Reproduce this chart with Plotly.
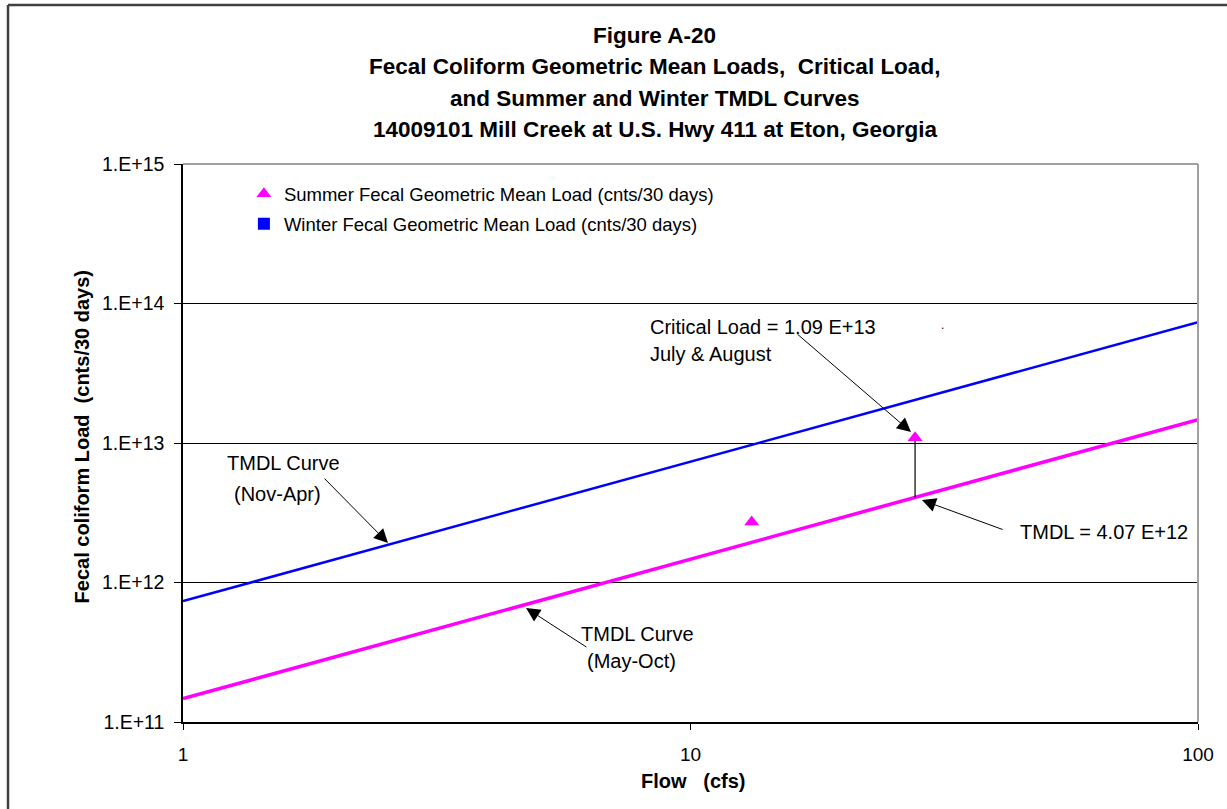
import plotly.graph_objects as go

# ---- data ----
flow_range = [1, 100]
summer_tmdl = [1.47e11, 1.47e13]
winter_tmdl = [7.35e11, 7.35e13]

summer_flow = [13.2, 27.7]
summer_load = [2.72e12, 1.09e13]
winter_flow = []
winter_load = []

critical_flow = 27.7
critical_load = 1.09e13
tmdl_load = 4.07e12

y_tickvals = [1e11, 1e12, 1e13, 1e14, 1e15]
y_ticktext = ["1.E+11", "1.E+12", "1.E+13", "1.E+14", "1.E+15"]
x_tickvals = [1, 10, 100]
x_ticktext = ["1", "10", "100"]

title_lines = [
    "Figure A-20",
    "Fecal Coliform Geometric Mean Loads,\u00a0\u00a0Critical Load,",
    "and Summer and Winter TMDL Curves",
    "14009101 Mill Creek at U.S. Hwy 411 at Eton, Georgia",
]

FONT = "Liberation Sans, Arial, sans-serif"
MAGENTA = "#FF00FF"
BLUE = "#0000FF"

fig = go.Figure()

fig.add_trace(go.Scatter(x=flow_range, y=summer_tmdl, mode="lines",
                         line=dict(color=MAGENTA, width=3.5), showlegend=False,
                         hoverinfo="skip"))
fig.add_trace(go.Scatter(x=flow_range, y=winter_tmdl, mode="lines",
                         line=dict(color=BLUE, width=2.5), showlegend=False,
                         hoverinfo="skip"))
fig.add_trace(go.Scatter(x=[critical_flow, critical_flow], y=[critical_load, tmdl_load],
                         mode="lines", line=dict(color="black", width=1.2),
                         showlegend=False, hoverinfo="skip"))
fig.add_trace(go.Scatter(x=summer_flow, y=summer_load, mode="markers",
                         marker=dict(symbol="triangle-up", size=13, color=MAGENTA),
                         name="Summer Fecal Geometric Mean Load (cnts/30 days)",
                         legendgroup="s"))
fig.add_trace(go.Scatter(x=winter_flow if winter_flow else [None],
                         y=winter_load if winter_load else [None], mode="markers",
                         marker=dict(symbol="square", size=12, color=BLUE),
                         name="Winter Fecal Geometric Mean Load (cnts/30 days)",
                         legendgroup="w"))

annotations = []
# title lines
for txt, yp in zip(title_lines, [1.231, 1.174, 1.1165, 1.061]):
    annotations.append(dict(text="<b>%s</b>" % txt, xref="paper", yref="paper",
                            x=0.465, y=yp, xanchor="center", yanchor="middle",
                            showarrow=False, font=dict(size=22.5, color="black", family=FONT)))
# axis titles
annotations.append(dict(text="<b>Flow\u00a0\u00a0\u00a0(cfs)</b>", xref="paper", yref="paper",
                        x=0.5025, y=-0.1057, xanchor="center", yanchor="middle",
                        showarrow=False, font=dict(size=20, color="black", family=FONT)))
annotations.append(dict(text="<b>Fecal coliform Load\u00a0\u00a0(cnts/30 days)</b>",
                        xref="paper", yref="paper", x=-0.0995, y=0.51, textangle=-90,
                        xanchor="center", yanchor="middle", showarrow=False,
                        font=dict(size=20, color="black", family=FONT)))

# text labels (log10 data coordinates)
labels = [
    ("Critical Load = 1.09 E+13", 0.916, 13.832, "left"),
    ("July & August", 0.916, 13.638, "left"),
    ("TMDL Curve", 0.198, 12.857, "center"),
    ("(Nov-Apr)", 0.187, 12.634, "center"),
    ("TMDL = 4.07 E+12", 1.645, 12.362, "left"),
    ("TMDL Curve", 0.895, 11.631, "center"),
    ("(May-Oct)", 0.883, 11.437, "center"),
]
for txt, xl, yl, anc in labels:
    annotations.append(dict(text=txt, x=xl, y=yl, xref="x", yref="y", xanchor=anc,
                            yanchor="middle", showarrow=False,
                            font=dict(size=20, color="black", family=FONT)))
annotations.append(dict(text=".", x=1.4975, y=13.846, xref="x", yref="y",
                        showarrow=False, font=dict(size=12, color="black", family=FONT)))

# arrows (tip, tail) in log10 data coordinates
arrows = [
    ((1.4345, 13.079), (1.2079, 13.789)),
    ((0.404, 12.283), (0.2759, 12.756)),
    ((0.676, 11.817), (0.798, 11.530)),
    ((1.456, 12.591), (1.618, 12.376)),
]
for (tx, ty), (ax, ay) in arrows:
    annotations.append(dict(text="", x=tx, y=ty, ax=ax, ay=ay, xref="x", yref="y",
                            axref="x", ayref="y", showarrow=True, arrowhead=2,
                            arrowsize=2.8, arrowwidth=1, arrowcolor="black"))

shapes = [
    # gray top and right border of plot area
    dict(type="line", xref="paper", yref="paper", x0=0, x1=1, y0=1, y1=1,
         line=dict(color="#A0A0A0", width=2), layer="above"),
    dict(type="line", xref="paper", yref="paper", x0=1, x1=1, y0=0, y1=1,
         line=dict(color="#A0A0A0", width=2), layer="above"),
    # outer chart frame
    dict(type="line", xref="paper", yref="paper", x0=-0.1724, x1=1.05, y0=1.285, y1=1.285,
         line=dict(color="#404040", width=2.5)),
    dict(type="line", xref="paper", yref="paper", x0=-0.1724, x1=-0.1724, y0=1.285, y1=-0.2,
         line=dict(color="#404040", width=2.5)),
]

fig.update_layout(
    width=1227, height=809, autosize=False,
    margin=dict(l=183, r=29, t=164, b=87),
    paper_bgcolor="white", plot_bgcolor="white",
    font=dict(family=FONT, color="black"),
    showlegend=True,
    legend=dict(x=0.06, y=0.98, xanchor="left", yanchor="top",
                bgcolor="rgba(0,0,0,0)", font=dict(size=18.5, family=FONT, color="black"),
                tracegroupgap=3, itemwidth=30),
    annotations=annotations,
    shapes=shapes,
    xaxis=dict(type="log", range=[0, 2], tickvals=x_tickvals, ticktext=x_ticktext,
               ticks="outside", ticklen=6, tickcolor="black", showline=True,
               linecolor="black", linewidth=1.5, showgrid=False, zeroline=False,
               tickfont=dict(size=19, color="black", family=FONT), ticklabelstandoff=8),
    yaxis=dict(type="log", range=[11, 15], tickvals=y_tickvals, ticktext=y_ticktext,
               ticks="outside", ticklen=7, tickcolor="black", showline=True,
               linecolor="black", linewidth=1.5, showgrid=True, gridcolor="black",
               gridwidth=1, zeroline=False,
               tickfont=dict(size=19.5, color="black", family=FONT), ticklabelstandoff=6),
)

fig.write_html("out.html")
